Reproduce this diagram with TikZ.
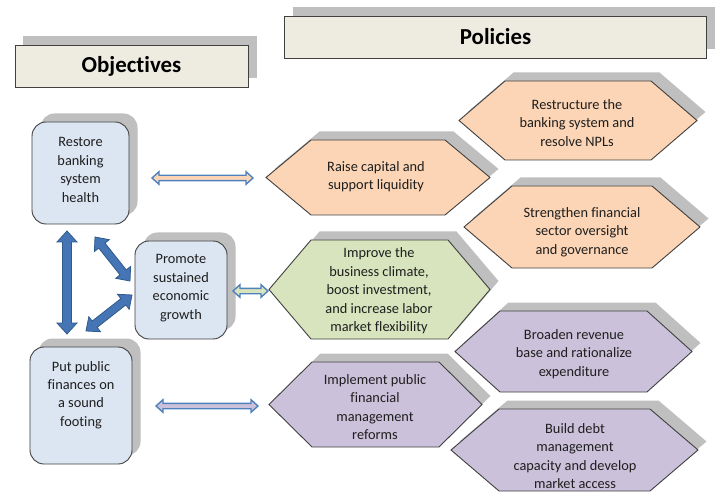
\documentclass[tikz,border=0pt]{standalone}
\usepackage{fontspec}
\setmainfont{Carlito}[Ligatures={NoCommon}]
\usetikzlibrary{calc,shadows}
\definecolor{hdrfill}{HTML}{EEECE1}
\definecolor{objfill}{HTML}{DCE6F2}
\definecolor{peach}{HTML}{FBD5B5}
\definecolor{sage}{HTML}{D7E4BD}
\definecolor{lilac}{HTML}{CCC1DA}
\definecolor{shadegrey}{HTML}{BFBFBF}
\definecolor{edgegrey}{HTML}{404040}
\definecolor{txt}{HTML}{1E1E1E}
\definecolor{arrowblue}{HTML}{4575B4}
\definecolor{arrowedge}{HTML}{2F5A8C}
\definecolor{linkblue}{HTML}{4F81BD}

% broad double-headed arrow between two named points:
% #1 style, #2 start, #3 end, #4 head length, #5 half shaft width, #6 half head width
\newcommand\fatdbl[6]{%
  \coordinate (fa1) at ($(#2)!#4!(#3)$);
  \coordinate (fa2) at ($(#3)!#4!(#2)$);
  \draw[#1] (#2) -- ($(fa1)!#6!90:(#3)$) -- ($(fa1)!#5!90:(#3)$)
    -- ($(fa2)!#5!90:(#3)$) -- ($(fa2)!#6!90:(#3)$) -- (#3)
    -- ($(fa2)!#6!-90:(#3)$) -- ($(fa2)!#5!-90:(#3)$)
    -- ($(fa1)!#5!-90:(#3)$) -- ($(fa1)!#6!-90:(#3)$) -- cycle;}

% policy hexagon: #1 fill, #2 left x, #3 right x, #4 corner inset, #5 top y, #6 bottom y
\newcommand\hexa[6]{%
  \draw[hexbox, fill=#1] (#2,{(#5+#6)/2}) -- ({#2+#4},#5) -- ({#3-#4},#5)
    -- (#3,{(#5+#6)/2}) -- ({#3-#4},#6) -- ({#2+#4},#6) -- cycle;}

\begin{document}
\begin{tikzpicture}[x=1bp,y=-1bp,
  greyshadow/.style={drop shadow={shadow xshift=8.5bp,shadow yshift=8.5bp,
      fill=shadegrey,opacity=1}},
  hdrbox/.style={draw=edgegrey,line width=0.9bp,fill=hdrfill,greyshadow,
      inner sep=0,font=\fontsize{23}{26}\selectfont\bfseries,text=black},
  objbox/.style={draw=edgegrey,line width=0.9bp,fill=objfill,greyshadow,
      rounded corners=14bp,inner sep=0},
  hexbox/.style={draw=edgegrey,line width=0.9bp,greyshadow},
  lbl/.style={align=center,inner sep=0,text=txt,
      font=\fontsize{14.4}{18.5}\selectfont},
  bluearrow/.style={fill=arrowblue,draw=arrowedge,line width=0.8bp,line join=miter},
  linkarrow/.style={draw=linkblue,line width=1.4bp,line join=miter}]
\useasboundingbox (0,0) rectangle (718,493);

% headers
\node[hdrbox,minimum width=233bp,minimum height=42bp] (objhdr) at (131.5,66) {Objectives};
\node[hdrbox,minimum width=422bp,minimum height=42bp] (polhdr) at (495.5,37) {Policies};

% objectives
\node[objbox,minimum width=97bp,minimum height=102bp] (restore) at (80.5,173) {};
\node[lbl] (restoreT) at (80.5,170) {Restore\\banking\\system\\health};
\node[objbox,minimum width=92bp,minimum height=98bp] (promote) at (181,290) {};
\node[lbl] (promoteT) at (181,288) {Promote\\sustained\\economic\\growth};
\node[objbox,minimum width=102bp,minimum height=117bp] (public) at (81,405.5) {};
\node[lbl] (publicT) at (81,395) {Put public\\finances on\\a sound\\footing};

% policies
\hexa{peach}{459}{697}{46}{81}{160}
\node[lbl] (restructure) at (577,123) {Restructure the\\banking system and\\resolve NPLs};
\hexa{peach}{266}{490}{45}{140}{215}
\node[lbl] (raise) at (376,176.5) {Raise capital and\\support liquidity};
\hexa{peach}{464}{700}{48}{186}{268}
\node[lbl] (oversight) at (582,232) {Strengthen financial\\sector oversight\\and governance};
\hexa{sage}{269}{490}{42}{240}{339}
\node[lbl] (climate) at (379,291) {Improve the\\business climate,\\boost investment,\\and increase labor\\market flexibility};
\hexa{lilac}{455}{692}{45}{311}{392}
\node[lbl] (revenue) at (574,354) {Broaden revenue\\base and rationalize\\expenditure};
\hexa{lilac}{269}{482}{43}{362}{447}
\node[lbl] (pfm) at (375,407) {Implement public\\financial\\management\\reforms};
\hexa{lilac}{451}{698}{48}{409}{491}
\node[lbl] (debt) at (575,456) {Build debt\\management\\capacity and develop\\market access};

% links between the objectives
\coordinate (v1) at (67,231);   \coordinate (v2) at (67,334);
\coordinate (d1) at (95,237);   \coordinate (d2) at (130,281);
\coordinate (d3) at (132,295);  \coordinate (d4) at (86,331);
\fatdbl{bluearrow}{v1}{v2}{11bp}{4.5bp}{10bp}
\fatdbl{bluearrow}{d1}{d2}{11bp}{4bp}{9.5bp}
\fatdbl{bluearrow}{d3}{d4}{11bp}{4bp}{9.5bp}

% links from objectives to policies
\coordinate (h1) at (152,178);  \coordinate (h2) at (253,178);
\coordinate (h3) at (233,291);  \coordinate (h4) at (268,291);
\coordinate (h5) at (156,406);  \coordinate (h6) at (258,406);
\fatdbl{linkarrow,fill=peach}{h1}{h2}{7bp}{2.7bp}{6.3bp}
\fatdbl{linkarrow,fill=sage}{h3}{h4}{7bp}{2.7bp}{6.3bp}
\fatdbl{linkarrow,fill=lilac}{h5}{h6}{7bp}{2.7bp}{6.3bp}
\end{tikzpicture}
\end{document}
